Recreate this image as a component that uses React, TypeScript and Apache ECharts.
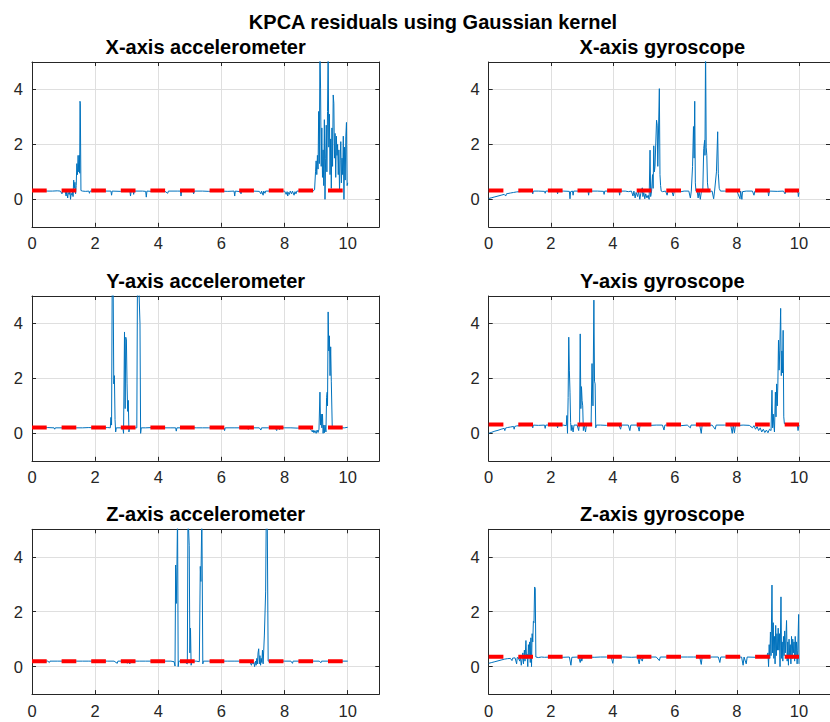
import React, { useEffect, useRef } from "react";
import * as echarts from "echarts";

const MAIN_TITLE = "KPCA residuals using Gaussian kernel";
const PANEL_TITLES = [
  "X-axis accelerometer",
  "X-axis gyroscope",
  "Y-axis accelerometer",
  "Y-axis gyroscope",
  "Z-axis accelerometer",
  "Z-axis gyroscope",
];
const X_TICKS = [0, 2, 4, 6, 8, 10];
const Y_TICKS = [0, 2, 4];
const X_MIN = 0;
const X_MAX = 11;
const Y_MIN = -1;
const Y_MAX = 5;
const THRESHOLDS = [0.32, 0.32, 0.21, 0.32, 0.2, 0.36];
const THRESHOLD_SPAN = [0, 10];

const X_ACC: number[][] = [
  [0, 0.31], [0.2, 0.3], [0.35, 0.31], [0.5, 0.3], [0.65, 0.3], [0.8, 0.31], [0.9, 0.3], [0.95, 0.2], [0.97, 0.3],
  [1.05, 0.29], [1.08, 0.12], [1.1, 0.28], [1.13, 0.05], [1.15, 0.25], [1.18, 0.18], [1.2, 0.3], [1.22, 0.0],
  [1.24, 0.22], [1.27, 0.15], [1.29, 0.35], [1.3, 0.1], [1.32, 0.7], [1.34, 0.4], [1.36, 0.62], [1.38, 0.2],
  [1.4, 0.5], [1.42, 1.3], [1.44, 0.9], [1.46, 1.6], [1.48, 1.0], [1.5, 1.6], [1.51, 0.95], [1.52, 3.57],
  [1.53, 3.5], [1.55, 0.32], [1.6, 0.3], [1.7, 0.29], [1.8, 0.3], [1.82, 0.22], [1.84, 0.3], [2.0, 0.3],
  [2.2, 0.29], [2.3, 0.3], [2.5, 0.3], [2.52, 0.15], [2.54, 0.3], [2.8, 0.29], [3.0, 0.3], [3.1, 0.3],
  [3.12, 0.12], [3.14, 0.28], [3.2, 0.3], [3.22, 0.18], [3.24, 0.3], [3.5, 0.3], [3.6, 0.29], [3.62, 0.08],
  [3.64, 0.3], [3.8, 0.29], [4.0, 0.3], [4.2, 0.3], [4.3, 0.22], [4.32, 0.3], [4.6, 0.3], [4.7, 0.3],
  [4.72, 0.12], [4.74, 0.3], [5.0, 0.29], [5.1, 0.3], [5.12, 0.2], [5.14, 0.3], [5.4, 0.3], [5.6, 0.29],
  [5.8, 0.3], [6.0, 0.3], [6.2, 0.29], [6.4, 0.3], [6.42, 0.12], [6.44, 0.3], [6.6, 0.28], [6.62, 0.2],
  [6.64, 0.3], [7.0, 0.3], [7.2, 0.29], [7.25, 0.2], [7.27, 0.3], [7.32, 0.15], [7.34, 0.3], [7.38, 0.22],
  [7.4, 0.3], [7.6, 0.3], [7.8, 0.3], [8.0, 0.3], [8.05, 0.18], [8.08, 0.28], [8.1, 0.12], [8.12, 0.25],
  [8.15, 0.18], [8.18, 0.3], [8.22, 0.2], [8.25, 0.3], [8.3, 0.15], [8.33, 0.28], [8.36, 0.2], [8.39, 0.3],
  [8.6, 0.3], [8.8, 0.29], [8.9, 0.3], [8.95, 0.35], [8.98, 1.0], [9.0, 1.4], [9.02, 0.9], [9.04, 1.6],
  [9.06, 1.1], [9.08, 3.2], [9.1, 1.3], [9.12, 5.5], [9.14, 4.05], [9.16, 1.2], [9.18, 2.6], [9.2, 0.8],
  [9.22, 1.8], [9.24, 0.5], [9.26, 2.9], [9.28, 0.0], [9.3, 1.5], [9.32, 2.7], [9.34, 1.0], [9.36, 3.2],
  [9.38, 5.5], [9.4, 1.9], [9.42, 3.1], [9.44, 0.9], [9.46, 2.2], [9.48, 0.4], [9.5, 2.6], [9.52, 1.2],
  [9.54, 3.8], [9.56, 3.5], [9.58, 1.5], [9.6, 2.4], [9.62, 0.8], [9.64, 2.3], [9.66, 1.6], [9.68, 2.0],
  [9.7, 0.9], [9.72, 1.8], [9.74, 0.3], [9.76, 1.4], [9.78, 2.1], [9.8, 0.6], [9.82, 1.5], [9.84, 0.9],
  [9.86, 2.3], [9.88, 0.0], [9.9, 1.9], [9.92, 0.7], [9.94, 2.3], [9.96, 2.8], [9.98, 0.5], [10.0, 0.6],
];

const X_GYRO: number[][] = [
  [0, 0.03], [0.1, 0.06], [0.2, 0.09], [0.3, 0.12], [0.4, 0.15], [0.5, 0.18], [0.55, 0.12], [0.57, 0.2],
  [0.7, 0.23], [0.8, 0.25], [0.9, 0.27], [1.0, 0.28], [1.1, 0.29], [1.2, 0.3], [1.4, 0.3], [1.42, 0.2],
  [1.44, 0.3], [1.6, 0.3], [1.8, 0.29], [1.82, 0.22], [1.84, 0.3], [2.0, 0.3], [2.2, 0.3], [2.22, 0.2],
  [2.24, 0.3], [2.4, 0.3], [2.6, 0.29], [2.62, 0.02], [2.64, 0.28], [2.7, 0.3], [2.72, 0.15], [2.74, 0.3],
  [3.0, 0.3], [3.2, 0.3], [3.22, 0.15], [3.24, 0.3], [3.5, 0.3], [3.7, 0.29], [3.72, 0.18], [3.74, 0.3],
  [4.0, 0.3], [4.2, 0.3], [4.22, 0.15], [4.24, 0.3], [4.4, 0.3], [4.5, 0.28], [4.6, 0.3], [4.65, 0.12],
  [4.68, 0.3], [4.72, 0.05], [4.75, 0.25], [4.8, 0.1], [4.83, 0.3], [4.87, 0.0], [4.9, 0.2], [4.95, 0.42],
  [4.97, 0.1], [5.0, 0.25], [5.03, 0.02], [5.06, 0.2], [5.1, 0.05], [5.14, 0.15], [5.17, 0.0], [5.2, 1.79],
  [5.22, 0.1], [5.25, 0.3], [5.28, 0.9], [5.3, 0.4], [5.32, 1.95], [5.34, 1.0], [5.36, 1.2], [5.41, 2.88],
  [5.43, 2.7], [5.45, 1.2], [5.5, 4.03], [5.52, 0.9], [5.54, 0.5], [5.56, 0.3], [5.6, 0.28], [5.7, 0.3],
  [5.75, 0.15], [5.78, 0.3], [5.9, 0.3], [5.95, 0.12], [5.98, 0.29], [6.1, 0.3], [6.2, 0.28], [6.3, 0.3],
  [6.45, 0.3], [6.5, 0.05], [6.53, 0.3], [6.57, 1.2], [6.6, 2.65], [6.62, 1.5], [6.64, 3.57], [6.66, 0.6],
  [6.68, 0.3], [6.72, 0.28], [6.75, 0.05], [6.78, 0.3], [6.82, 0.0], [6.85, 0.25], [6.9, 0.3], [6.93, 1.85],
  [6.96, 2.15], [6.97, 1.6], [6.99, 5.6], [7.01, 1.9], [7.03, 1.6], [7.05, 0.6], [7.08, 0.3], [7.15, 0.29],
  [7.2, 0.3], [7.25, 0.02], [7.28, 0.3], [7.34, 1.0], [7.38, 2.46], [7.4, 0.95], [7.43, 0.4], [7.47, 0.3],
  [7.6, 0.3], [7.8, 0.29], [8.0, 0.3], [8.1, 0.02], [8.12, 0.3], [8.16, 0.0], [8.18, 0.28], [8.3, 0.3],
  [8.5, 0.3], [8.55, 0.15], [8.58, 0.3], [8.8, 0.3], [9.0, 0.3], [9.02, 0.12], [9.05, 0.3], [9.3, 0.29],
  [9.5, 0.3], [9.55, 0.2], [9.58, 0.3], [9.8, 0.28], [9.9, 0.3], [9.97, 0.25], [9.98, 0.1], [10.0, 0.25],
];

const Y_ACC: number[][] = [
  [0, 0.21], [0.3, 0.2], [0.5, 0.21], [0.7, 0.2], [0.72, 0.15], [0.74, 0.2], [1.0, 0.2], [1.2, 0.21],
  [1.4, 0.2], [1.6, 0.2], [1.8, 0.21], [2.0, 0.2], [2.2, 0.2], [2.4, 0.21], [2.48, 0.2], [2.5, 0.58],
  [2.52, 0.3], [2.54, 5.5], [2.57, 5.5], [2.59, 1.8], [2.61, 2.1], [2.63, 0.5], [2.65, 0.05], [2.67, 0.2],
  [2.8, 0.2], [2.88, 0.18], [2.9, 0.0], [2.93, 3.69], [2.95, 0.9], [2.97, 3.5], [2.99, 3.4], [3.01, 1.8],
  [3.03, 0.8], [3.05, 1.2], [3.07, 0.05], [3.09, 0.2], [3.2, 0.2], [3.32, 0.2], [3.34, 5.5], [3.38, 5.5],
  [3.42, 4.0], [3.44, 0.0], [3.46, 0.2], [3.6, 0.2], [3.8, 0.21], [4.0, 0.2], [4.2, 0.2], [4.4, 0.2],
  [4.55, 0.2], [4.57, 0.08], [4.59, 0.2], [4.8, 0.2], [5.0, 0.21], [5.2, 0.2], [5.4, 0.2], [5.6, 0.2],
  [5.8, 0.2], [6.0, 0.2], [6.08, 0.2], [6.1, 0.1], [6.12, 0.2], [6.4, 0.2], [6.6, 0.2], [6.8, 0.2],
  [6.85, 0.14], [6.87, 0.2], [7.0, 0.2], [7.2, 0.2], [7.25, 0.12], [7.27, 0.2], [7.5, 0.2], [7.7, 0.2],
  [7.75, 0.1], [7.77, 0.2], [7.85, 0.14], [7.87, 0.2], [8.0, 0.2], [8.2, 0.2], [8.4, 0.19], [8.6, 0.2],
  [8.8, 0.2], [8.85, 0.1], [8.88, 0.05], [8.9, 0.12], [8.93, 0.02], [8.96, 0.1], [9.0, 0.0], [9.03, 0.12],
  [9.06, 0.03], [9.09, 0.15], [9.12, 1.5], [9.14, 0.3], [9.16, 0.7], [9.18, 0.2], [9.2, 0.7], [9.22, 0.0],
  [9.24, 0.3], [9.26, 0.02], [9.28, 0.3], [9.31, 0.05], [9.33, 1.3], [9.35, 1.5], [9.36, 1.0], [9.38, 4.42],
  [9.4, 3.0], [9.42, 3.55], [9.44, 2.1], [9.46, 3.15], [9.48, 1.9], [9.51, 0.2], [9.7, 0.2], [9.9, 0.2],
  [10.0, 0.22],
];

const Y_GYRO: number[][] = [
  [0, 0.0], [0.1, 0.04], [0.2, 0.08], [0.3, 0.11], [0.4, 0.15], [0.5, 0.18], [0.52, 0.1], [0.54, 0.19],
  [0.6, 0.21], [0.7, 0.23], [0.8, 0.25], [0.82, 0.15], [0.84, 0.25], [0.9, 0.27], [1.0, 0.28], [1.1, 0.29],
  [1.2, 0.3], [1.4, 0.3], [1.42, 0.2], [1.44, 0.3], [1.6, 0.29], [1.8, 0.3], [1.82, 0.18], [1.84, 0.3],
  [2.0, 0.3], [2.2, 0.3], [2.22, 0.2], [2.24, 0.3], [2.4, 0.3], [2.5, 0.28], [2.52, 0.65], [2.54, 0.0],
  [2.56, 1.3], [2.58, 3.5], [2.6, 2.3], [2.62, 1.5], [2.64, 0.4], [2.66, 0.1], [2.68, 0.3], [2.72, 0.05],
  [2.75, 0.3], [2.85, 0.3], [2.9, 0.1], [2.93, 0.4], [2.95, 3.62], [2.97, 0.9], [2.99, 1.7], [3.01, 1.2],
  [3.03, 1.0], [3.05, 0.1], [3.08, 0.3], [3.12, 0.05], [3.15, 0.3], [3.3, 0.3], [3.33, 2.54], [3.36, 1.0],
  [3.39, 4.85], [3.41, 1.9], [3.43, 1.8], [3.45, 0.2], [3.47, 0.3], [3.6, 0.3], [3.8, 0.29], [4.0, 0.3],
  [4.2, 0.3], [4.25, 0.15], [4.28, 0.3], [4.5, 0.3], [4.55, 0.1], [4.58, 0.3], [4.8, 0.3], [4.85, 0.08],
  [4.88, 0.3], [5.0, 0.3], [5.2, 0.29], [5.4, 0.3], [5.6, 0.3], [5.65, 0.12], [5.68, 0.3], [5.9, 0.3],
  [6.0, 0.3], [6.2, 0.28], [6.4, 0.3], [6.5, 0.2], [6.52, 0.3], [6.8, 0.3], [6.85, 0.0], [6.88, 0.3],
  [7.0, 0.28], [7.2, 0.3], [7.3, 0.15], [7.33, 0.3], [7.6, 0.3], [7.8, 0.3], [7.85, 0.0], [7.88, 0.3],
  [7.92, 0.02], [7.95, 0.28], [8.2, 0.3], [8.4, 0.29], [8.5, 0.2], [8.55, 0.28], [8.6, 0.15], [8.65, 0.25],
  [8.7, 0.1], [8.75, 0.2], [8.8, 0.05], [8.85, 0.15], [8.9, 0.03], [8.95, 0.12], [9.0, 0.02], [9.05, 0.15],
  [9.1, 0.1], [9.13, 1.57], [9.15, 0.2], [9.17, 0.7], [9.19, 0.3], [9.21, 0.05], [9.24, 1.5], [9.26, 0.6],
  [9.28, 1.8], [9.3, 1.0], [9.32, 1.8], [9.34, 3.39], [9.36, 2.3], [9.38, 3.0], [9.41, 4.55], [9.43, 2.1],
  [9.45, 3.0], [9.47, 2.2], [9.49, 3.75], [9.51, 0.6], [9.53, 0.35], [9.6, 0.3], [9.8, 0.3], [9.95, 0.28],
  [9.97, 0.1], [10.0, 0.3],
];

const Z_ACC: number[][] = [
  [0, 0.21], [0.3, 0.2], [0.5, 0.2], [0.55, 0.15], [0.57, 0.2], [0.8, 0.2], [1.0, 0.2], [1.2, 0.2],
  [1.4, 0.2], [1.6, 0.2], [1.8, 0.2], [2.0, 0.2], [2.2, 0.2], [2.4, 0.2], [2.6, 0.2], [2.7, 0.12],
  [2.72, 0.2], [2.9, 0.2], [3.0, 0.2], [3.02, 0.12], [3.04, 0.2], [3.1, 0.1], [3.12, 0.2], [3.4, 0.2],
  [3.6, 0.2], [3.8, 0.2], [4.0, 0.2], [4.2, 0.2], [4.4, 0.2], [4.5, 0.18], [4.53, 0.02], [4.55, 3.7],
  [4.57, 2.3], [4.59, 3.6], [4.61, 5.6], [4.63, 0.0], [4.65, 0.2], [4.8, 0.2], [4.92, 0.1], [4.94, 5.6],
  [4.96, 5.6], [4.98, 4.4], [5.0, 0.5], [5.02, 1.4], [5.04, 0.05], [5.06, 0.2], [5.2, 0.2], [5.3, 0.18],
  [5.33, 3.65], [5.35, 3.1], [5.38, 5.6], [5.41, 0.1], [5.43, 0.2], [5.6, 0.2], [5.8, 0.2], [6.0, 0.2],
  [6.2, 0.2], [6.4, 0.2], [6.6, 0.2], [6.8, 0.2], [6.9, 0.18], [6.95, 0.05], [6.98, 0.2], [7.0, 0.1],
  [7.03, 0.15], [7.05, 0.0], [7.08, 0.2], [7.1, 0.05], [7.12, 0.3], [7.14, 0.1], [7.16, 0.5], [7.18, 0.65],
  [7.2, 0.1], [7.22, 0.4], [7.24, 0.05], [7.26, 0.3], [7.28, 0.15], [7.3, 0.6], [7.32, 0.1], [7.34, 0.6],
  [7.36, 1.15], [7.38, 1.15], [7.4, 2.72], [7.42, 5.6], [7.45, 5.6], [7.48, 0.2], [7.6, 0.2], [7.8, 0.2],
  [8.0, 0.2], [8.2, 0.2], [8.25, 0.12], [8.27, 0.2], [8.5, 0.2], [8.7, 0.2], [8.9, 0.2], [9.1, 0.2],
  [9.15, 0.14], [9.17, 0.2], [9.4, 0.2], [9.6, 0.2], [9.8, 0.2], [10.0, 0.2],
];

const Z_GYRO: number[][] = [
  [0, 0.12], [0.1, 0.15], [0.2, 0.18], [0.3, 0.21], [0.4, 0.24], [0.5, 0.27], [0.6, 0.29], [0.7, 0.3],
  [0.75, 0.22], [0.77, 0.31], [0.85, 0.32], [0.9, 0.1], [0.92, 0.33], [0.95, 0.33], [1.0, 0.2], [1.02, 0.4],
  [1.05, 0.05], [1.08, 0.3], [1.1, 0.5], [1.12, 0.1], [1.15, 0.6], [1.17, 0.2], [1.2, 0.95], [1.22, 0.3],
  [1.24, 0.45], [1.26, 0.0], [1.28, 0.8], [1.3, 0.35], [1.32, 0.9], [1.34, 0.15], [1.36, 1.05], [1.38, 0.0],
  [1.4, 1.2], [1.42, 0.9], [1.44, 1.65], [1.46, 1.6], [1.48, 2.9], [1.5, 2.85], [1.52, 0.35], [1.6, 0.33],
  [1.7, 0.35], [1.8, 0.34], [2.0, 0.35], [2.2, 0.35], [2.4, 0.34], [2.6, 0.35], [2.65, 0.05], [2.68, 0.34],
  [2.9, 0.35], [2.95, 0.15], [2.98, 0.33], [3.0, 0.2], [3.03, 0.35], [3.2, 0.35], [3.4, 0.34], [3.6, 0.35],
  [3.8, 0.35], [3.95, 0.35], [4.0, 0.12], [4.03, 0.35], [4.2, 0.35], [4.4, 0.35], [4.6, 0.34], [4.8, 0.35],
  [4.85, 0.1], [4.88, 0.33], [4.95, 0.2], [4.98, 0.35], [5.2, 0.35], [5.4, 0.35], [5.5, 0.22], [5.53, 0.35],
  [5.8, 0.35], [6.0, 0.34], [6.2, 0.35], [6.4, 0.35], [6.6, 0.35], [6.8, 0.35], [6.85, 0.08], [6.88, 0.35],
  [7.0, 0.34], [7.2, 0.35], [7.4, 0.35], [7.45, 0.15], [7.48, 0.35], [7.8, 0.35], [8.0, 0.34], [8.15, 0.35],
  [8.2, 0.05], [8.23, 0.35], [8.3, 0.1], [8.33, 0.35], [8.6, 0.34], [8.8, 0.35], [8.95, 0.35], [9.0, 0.5],
  [9.02, 0.0], [9.04, 0.8], [9.06, 0.3], [9.08, 1.26], [9.1, 0.4], [9.13, 2.97], [9.15, 0.5], [9.17, 1.6],
  [9.19, 0.3], [9.21, 1.1], [9.23, 0.1], [9.25, 1.5], [9.27, 0.4], [9.29, 1.2], [9.31, 0.6], [9.33, 1.4],
  [9.35, 0.6], [9.37, 1.2], [9.39, 0.0], [9.42, 2.54], [9.44, 0.3], [9.46, 0.9], [9.48, 0.2], [9.5, 1.1],
  [9.52, 0.4], [9.54, 1.3], [9.56, 0.5], [9.6, 1.68], [9.62, 0.2], [9.64, 0.9], [9.66, 0.05], [9.68, 1.0],
  [9.7, 0.4], [9.72, 0.8], [9.74, 0.1], [9.76, 1.1], [9.78, 0.3], [9.8, 1.0], [9.82, 0.5], [9.84, 0.9],
  [9.86, 0.2], [9.88, 1.1], [9.9, 0.3], [9.92, 0.9], [9.94, 0.1], [9.96, 0.6], [9.99, 1.9], [10.0, 0.1],
];

const PANEL_DATA = [X_ACC, X_GYRO, Y_ACC, Y_GYRO, Z_ACC, Z_GYRO];

const GRID_LEFTS = [32, 488.7];
const GRID_TOPS = [62, 296, 529.3];
const GRID_W = 347.3;
const GRID_H = 164.8;

const FONT = "'Liberation Sans', Arial, Helvetica, sans-serif";
const AXIS_COLOR = "#262626";
const GRID_COLOR = "#dfdfdf";

function buildOption() {
  const grid: any[] = [];
  const xAxis: any[] = [];
  const yAxis: any[] = [];
  const series: any[] = [];
  const graphic: any[] = [];

  graphic.push({
    type: "text",
    x: 433,
    y: 22,
    silent: true,
    style: {
      text: MAIN_TITLE,
      fill: "#000",
      fontSize: 20,
      fontWeight: "bold",
      fontFamily: FONT,
      align: "center",
      verticalAlign: "middle",
      textAlign: "center",
      textVerticalAlign: "middle",
    },
  });

  PANEL_TITLES.forEach((title, i) => {
    const left = GRID_LEFTS[i % 2];
    const top = GRID_TOPS[Math.floor(i / 2)];
    grid.push({ left, top, width: GRID_W, height: GRID_H, containLabel: false });

    const lineStyle = { color: AXIS_COLOR, width: 1 };
    const baseX = {
      type: "value",
      gridIndex: i,
      min: X_MIN,
      max: X_MAX,
      axisLine: { show: true, onZero: false, lineStyle },
      axisTick: { show: true, inside: true, length: 4, customValues: X_TICKS, lineStyle },
    };
    xAxis.push({
      ...baseX,
      position: "bottom",
      axisLabel: { show: true, customValues: X_TICKS, margin: 8, color: AXIS_COLOR, fontSize: 16.5, fontFamily: FONT },
      splitLine: { show: true, lineStyle: { color: GRID_COLOR, width: 1 } },
    });
    xAxis.push({
      ...baseX,
      position: "top",
      axisLabel: { show: false },
      splitLine: { show: false },
    });
    const baseY = {
      type: "value",
      gridIndex: i,
      min: Y_MIN,
      max: Y_MAX,
      axisLine: { show: true, onZero: false, lineStyle },
      axisTick: { show: true, inside: true, length: 4, customValues: Y_TICKS, lineStyle },
    };
    yAxis.push({
      ...baseY,
      position: "left",
      axisLabel: { show: true, customValues: Y_TICKS, margin: 9, color: AXIS_COLOR, fontSize: 16.5, fontFamily: FONT },
      splitLine: { show: true, lineStyle: { color: GRID_COLOR, width: 1 } },
    });
    yAxis.push({
      ...baseY,
      position: "right",
      axisLabel: { show: false },
      splitLine: { show: false },
    });

    series.push({
      type: "line",
      name: title,
      xAxisIndex: i * 2,
      yAxisIndex: i * 2,
      data: PANEL_DATA[i],
      showSymbol: false,
      symbol: "none",
      clip: true,
      silent: true,
      z: 2,
      lineStyle: { color: "#0072BD", width: 1 },
    });
    series.push({
      type: "line",
      name: title + " threshold",
      xAxisIndex: i * 2,
      yAxisIndex: i * 2,
      data: THRESHOLD_SPAN.map((x) => [x, THRESHOLDS[i]]),
      showSymbol: false,
      symbol: "none",
      clip: true,
      silent: true,
      z: 3,
      lineStyle: { color: "#FF0000", width: 4, type: [14.7, 14.9], cap: "butt" },
    });

    graphic.push({
      type: "text",
      x: left + GRID_W / 2,
      y: top - 15,
      silent: true,
      style: {
        text: title,
        fill: "#000",
        fontSize: 20,
        fontWeight: "bold",
        fontFamily: FONT,
        align: "center",
        verticalAlign: "middle",
        textAlign: "center",
        textVerticalAlign: "middle",
      },
    });
  });

  return {
    animation: false,
    backgroundColor: "#ffffff",
    grid,
    xAxis,
    yAxis,
    series,
    graphic,
  };
}

export default function App() {
  const ref = useRef<HTMLDivElement>(null);
  useEffect(() => {
    if (!ref.current) return;
    const chart = echarts.init(ref.current, null, { renderer: "svg" });
    chart.setOption(buildOption() as any);
    return () => chart.dispose();
  }, []);
  return (
    <div
      ref={ref}
      style={{ position: "absolute", left: 0, top: 0, width: 830, height: 722, overflow: "hidden" }}
    />
  );
}
